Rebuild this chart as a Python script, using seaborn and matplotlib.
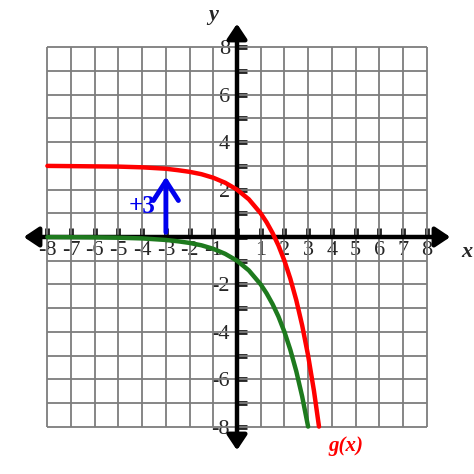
import matplotlib
matplotlib.use("Agg")
import matplotlib.pyplot as plt
import seaborn as sns
import pandas as pd

sns.set_style("white")
plt.rcParams['font.family'] = ['Liberation Serif', 'DejaVu Serif']
plt.rcParams['axes.unicode_minus'] = False

# values
green_x = [-8, -7, -6, -5, -4, -3, -2.5, -2, -1.5, -1, -0.5, 0, 0.5, 1, 1.25, 1.5,
           1.75, 2, 2.25, 2.5, 2.75, 3]
green_y = [-0.004, -0.008, -0.016, -0.03, -0.06, -0.125, -0.18, -0.25, -0.35, -0.5,
           -0.71, -1.0, -1.41, -2.0, -2.38, -2.83, -3.36, -4.0, -4.76, -5.66, -6.73, -8.0]
red_x = [-8, -7, -6, -5, -4, -3, -2.5, -2, -1.5, -1, -0.5, 0, 0.5, 1, 1.25, 1.5,
         1.75, 2, 2.25, 2.5, 2.75, 3, 3.25, 3.46]
red_y = [3.0, 2.99, 2.98, 2.97, 2.94, 2.88, 2.82, 2.75, 2.65, 2.5, 2.29, 2.0, 1.59,
         1.0, 0.62, 0.17, -0.36, -1.0, -1.76, -2.66, -3.73, -5.0, -6.51, -8.0]
grid_vals = list(range(-8, 9))
x_labels = [str(v) if v != 0 else '' for v in grid_vals]
y_labels = [str(v) if v % 2 == 0 and v != 0 else '' for v in grid_vals]
shift_x = -3
shift_from, shift_to = 0.2, 2.55

fig = plt.figure(figsize=(4.74, 4.74), dpi=100)
ax = fig.add_axes([0, 0, 1, 1])
ax.set_xlim(-10, 10)
ax.set_ylim(-10, 10)

# grid only inside -8..8
ax.vlines(grid_vals, -8, 8, color='#7d7d7d', lw=1.3, zorder=1)
ax.hlines(grid_vals, -8, 8, color='#7d7d7d', lw=1.3, zorder=1)

# axes with arrows
arrow_kw = dict(arrowstyle='<|-|>,head_length=0.45,head_width=0.3', lw=3.2,
                color='black', mutation_scale=20, shrinkA=0, shrinkB=0)
ax.annotate('', xy=(9.0, 0), xytext=(-9.0, 0), arrowprops=arrow_kw, zorder=3)
ax.annotate('', xy=(0, 9.0), xytext=(0, -9.0), arrowprops=arrow_kw, zorder=3)

for s in ['top', 'right', 'bottom', 'left']:
    ax.spines[s].set_visible(False)
ax.spines['bottom'].set_position(('data', 0))
ax.spines['left'].set_position(('data', 0))

ax.set_xticks(grid_vals)
ax.set_xticklabels(x_labels)
ax.set_yticks(grid_vals)
ax.set_yticklabels(y_labels)
ax.tick_params(axis='x', direction='in', length=6.5, width=3.5, pad=3,
               labelsize=16, bottom=True)
ax.tick_params(axis='y', direction='in', length=7.5, width=3.5, pad=5,
               labelsize=16, left=True)
for t in ax.get_xticklines() + ax.get_yticklines():
    t.set_zorder(4)

sns.lineplot(data=pd.DataFrame({'x': green_x, 'y': green_y}), x='x', y='y',
             sort=False, color='#1e7a1e', lw=3.2, ax=ax, zorder=5)
sns.lineplot(data=pd.DataFrame({'x': red_x, 'y': red_y}), x='x', y='y',
             sort=False, color='#ff0000', lw=3.2, ax=ax, zorder=5)
ax.set_xlabel('')
ax.set_ylabel('')

# shift arrow
ax.annotate('', xy=(shift_x, shift_to), xytext=(shift_x, shift_from),
            arrowprops=dict(arrowstyle='->,head_length=0.7,head_width=0.45',
                            lw=3.5, color='#0000ee', shrinkA=0, shrinkB=0,
                            mutation_scale=20), zorder=6)
ax.text(shift_x - 0.45, 1.3, '+3', color='#0000ee', fontsize=18, fontweight='bold',
        ha='right', va='center', zorder=6)

ax.text(9.95, -0.65, 'x', fontsize=16, fontstyle='italic', fontweight='bold',
        ha='right', va='center')
ax.text(-1.0, 9.35, 'y', fontsize=16, fontstyle='italic', fontweight='bold',
        ha='center', va='center')
ax.text(4.6, -8.8, 'g(x)', fontsize=15, fontstyle='italic', fontweight='bold',
        color='#ff0000', ha='center', va='center')

fig.savefig('out.png', dpi=100)
